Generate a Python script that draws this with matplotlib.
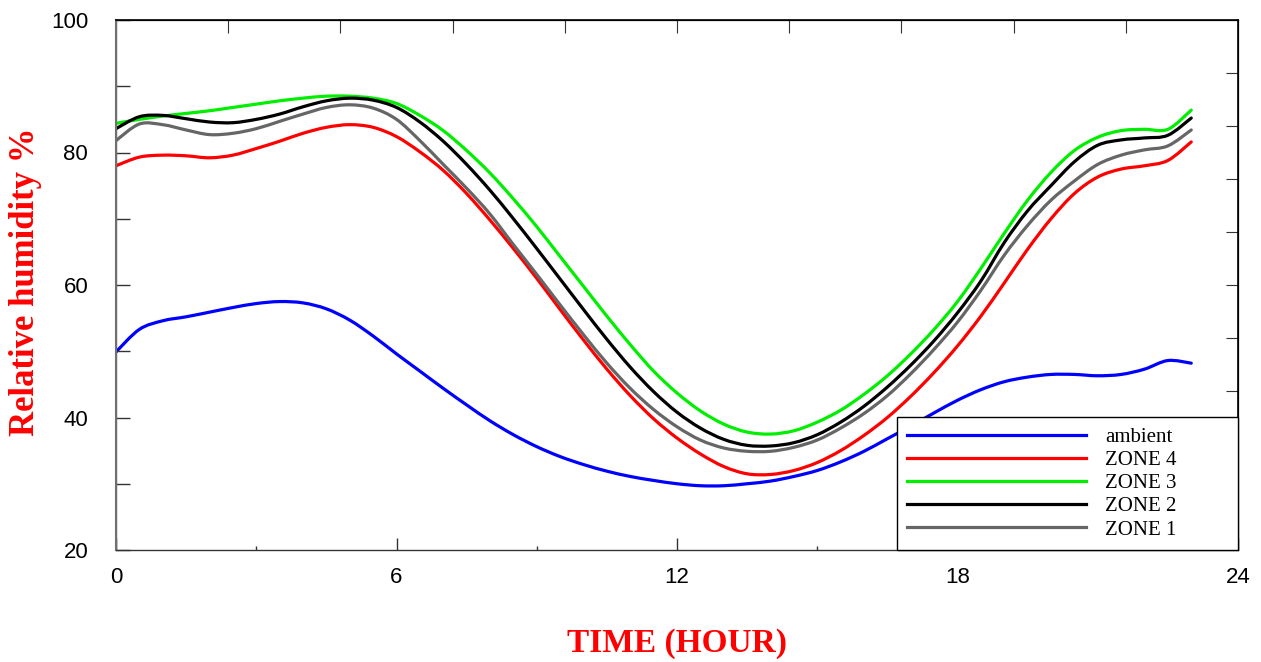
import numpy as np
from matplotlib import pyplot as plt
from matplotlib.ticker import MultipleLocator
from matplotlib.path import Path
from matplotlib.patches import PathPatch
from matplotlib.lines import Line2D

# hours of the day (half-hour readings)
hours = [0, 0.5, 1, 1.5, 2, 2.5, 3, 3.5, 4, 4.5, 5, 5.5, 6, 6.5, 7, 7.5, 8, 8.5,
         9, 9.5, 10, 10.5, 11, 11.5, 12, 12.5, 13, 13.5, 14, 14.5, 15, 15.5,
         16, 16.5, 17, 17.5, 18, 18.5, 19, 19.5, 20, 20.5, 21, 21.5, 22, 22.5, 23]

ambient = [49.9, 53.3, 54.6, 55.2, 55.9, 56.6, 57.2, 57.5, 57.3, 56.4, 54.7, 52.3,
           49.6, 47.0, 44.4, 41.9, 39.5, 37.4, 35.6, 34.1, 32.9, 31.9, 31.1, 30.5,
           30.0, 29.7, 29.7, 30.0, 30.4, 31.1, 32.0, 33.3, 34.9, 36.8, 38.7, 40.7,
           42.6, 44.2, 45.4, 46.1, 46.5, 46.5, 46.3, 46.5, 47.3, 48.6, 48.2]

zone4 = [78.0, 79.3, 79.6, 79.5, 79.2, 79.6, 80.6, 81.7, 82.9, 83.8, 84.2, 83.8,
         82.4, 80.1, 77.3, 73.8, 69.8, 65.5, 61.0, 56.3, 51.7, 47.3, 43.3, 39.8,
         36.9, 34.5, 32.6, 31.5, 31.4, 32.0, 33.2, 35.0, 37.3, 40.0, 43.2, 46.8,
         50.8, 55.3, 60.3, 65.4, 70.0, 73.8, 76.3, 77.5, 78.0, 78.8, 81.6]

zone3 = [84.4, 85.0, 85.5, 85.9, 86.3, 86.8, 87.3, 87.8, 88.2, 88.5, 88.5, 88.2,
         87.4, 85.6, 83.3, 80.3, 76.9, 73.0, 68.8, 64.3, 59.8, 55.3, 51.0, 47.0,
         43.7, 41.0, 39.0, 37.8, 37.5, 38.0, 39.3, 41.1, 43.5, 46.3, 49.6, 53.3,
         57.5, 62.5, 67.8, 72.8, 77.0, 80.3, 82.3, 83.3, 83.5, 83.5, 86.4]

zone2 = [83.6, 85.4, 85.6, 85.1, 84.6, 84.5, 85.0, 85.8, 86.9, 87.8, 88.2, 87.9,
         86.8, 84.6, 81.7, 78.2, 74.3, 70.0, 65.5, 60.9, 56.3, 51.8, 47.6, 43.9,
         40.8, 38.4, 36.7, 35.8, 35.7, 36.2, 37.4, 39.3, 41.7, 44.6, 47.9, 51.6,
         55.8, 60.6, 66.4, 71.2, 75.0, 78.6, 81.1, 81.9, 82.2, 82.6, 85.2]

zone1 = [81.8, 84.3, 84.2, 83.4, 82.7, 82.9, 83.6, 84.7, 85.8, 86.8, 87.2, 86.7,
         85.0, 81.8, 78.2, 74.6, 70.7, 66.1, 61.6, 57.0, 52.5, 48.2, 44.4, 41.2,
         38.6, 36.6, 35.4, 34.9, 34.9, 35.5, 36.6, 38.4, 40.6, 43.3, 46.6, 50.3,
         54.4, 59.2, 64.5, 69.0, 72.8, 75.7, 78.2, 79.6, 80.4, 81.0, 83.4]

labels = ["ambient", "ZONE 4", "ZONE 3", "ZONE 2", "ZONE 1"]
colors = ["#0000ff", "#ff0000", "#00ee00", "#000000", "#666666"]


def smooth_path(x, y):
    # bezier path through every reading (catmull-rom handles), like the original smoothed curves
    pts = np.column_stack([x, y]).astype(float)
    n = len(pts)
    verts = [pts[0]]
    codes = [Path.MOVETO]
    for i in range(n - 1):
        p0 = pts[i - 1] if i > 0 else pts[i]
        p1 = pts[i]
        p2 = pts[i + 1]
        p3 = pts[i + 2] if i + 2 < n else pts[i + 1]
        verts += [p1 + (p2 - p0) / 6, p2 - (p3 - p1) / 6, p2]
        codes += [Path.CURVE4] * 3
    return Path(verts, codes)


plt.rcParams['font.family'] = ['Liberation Sans', 'DejaVu Sans']

fig = plt.figure(figsize=(12.61, 6.62), dpi=100)
ax = fig.add_axes([116 / 1261, 1 - 550 / 662, 1122 / 1261, 530 / 662])

handles = []
for series, label, color in zip([ambient, zone4, zone3, zone2, zone1], labels, colors):
    ax.add_patch(PathPatch(smooth_path(hours, series), fill=False, edgecolor=color,
                           lw=2.3, capstyle="round", joinstyle="round"))
    handles.append(Line2D([], [], color=color, lw=2.3, label=label))

ax.set_xlim(0, 24)
ax.set_ylim(20, 100)
ax.xaxis.set_major_locator(MultipleLocator(6))
ax.xaxis.set_minor_locator(MultipleLocator(3))
ax.yaxis.set_major_locator(MultipleLocator(20))
ax.yaxis.set_minor_locator(MultipleLocator(10))
ax.tick_params(which="both", direction="in", top=False, right=False,
               labelsize=16, width=1, color="#333333")
ax.tick_params(axis="x", which="major", length=9, pad=12)
ax.tick_params(axis="x", which="minor", length=3)
ax.tick_params(axis="y", which="both", length=10, pad=20)

ax.spines["left"].set_color("#707070")
ax.spines["left"].set_linewidth(1.5)
ax.spines["bottom"].set_color("#333333")
ax.spines["top"].set_linewidth(1.2)
ax.spines["right"].set_linewidth(1.2)

# top and right frame ticks (ten divisions, no labels)
tx = ax.twiny()
tx.set_xlim(0, 10)
tx.set_xticks(range(1, 10))
tx.tick_params(direction="in", length=9, labeltop=False, color="#333333")
ty = ax.twinx()
ty.set_ylim(0, 10)
ty.set_yticks(range(1, 10))
ty.tick_params(direction="in", length=9, labelright=False, color="#333333")

ax.set_xlabel("TIME (HOUR)", fontsize=24, fontweight="bold", color="red",
              family="Liberation Serif", va="center")
ax.xaxis.set_label_coords(0.5, -0.1755)
ax.set_ylabel("Relative humidity %", fontsize=25, fontweight="bold", color="red",
              family="Liberation Serif", va="center")
ax.yaxis.set_label_coords(-0.081, 0.506)

leg = ax.legend(handles=handles, loc="lower left", bbox_to_anchor=(0.696, 0, 0.304, 0.3),
                mode="expand", borderaxespad=0, fancybox=False, edgecolor="black",
                framealpha=1, prop={"family": "Liberation Serif", "size": 15},
                handlelength=8.6, handletextpad=0.9, labelspacing=0.17,
                borderpad=0.5)
leg.get_frame().set_linewidth(1.0)
leg.set_zorder(5)
tx.set_zorder(ax.get_zorder() - 1)
ty.set_zorder(ax.get_zorder() - 1)
ax.patch.set_visible(False)

plt.savefig("out.png", dpi=100)
